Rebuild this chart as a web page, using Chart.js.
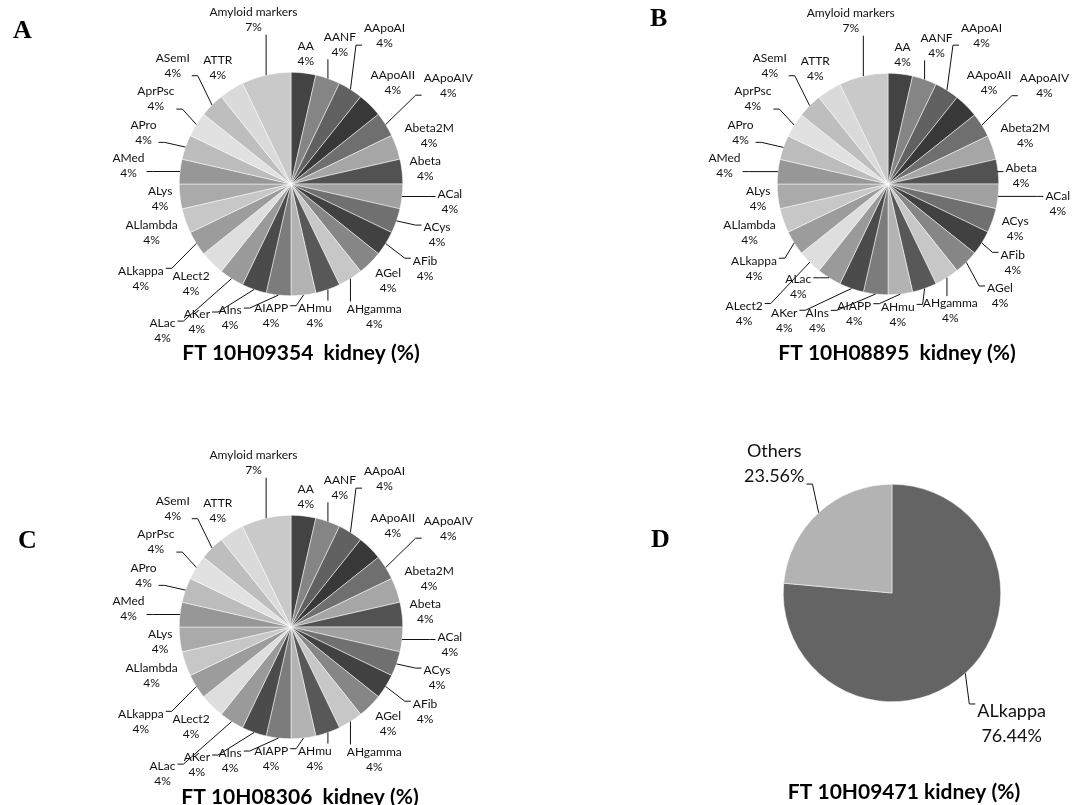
<!DOCTYPE html>
<html>
<head>
<meta charset="utf-8">
<title>Amyloid typing - kidney</title>
<script src="https://cdn.jsdelivr.net/npm/chart.js@4.4.1/dist/chart.umd.min.js"></script>
<style>
  html, body { margin: 0; padding: 0; background: #fff; }
  #page { position: relative; width: 1081px; height: 805px; overflow: hidden; }
  canvas { position: absolute; }
  .tag { position: absolute; font: bold 26px "Liberation Serif", serif; color: #000; line-height: 1; }
</style>
</head>
<body>
<div id="page">
  <canvas id="chartA" width="540" height="402" style="left:0;top:0"></canvas>
  <canvas id="chartB" width="541" height="402" style="left:540px;top:0"></canvas>
  <canvas id="chartC" width="540" height="403" style="left:0;top:402px"></canvas>
  <canvas id="chartD" width="541" height="403" style="left:540px;top:402px"></canvas>
  <div class="tag" style="left:13px;top:17px">A</div>
  <div class="tag" style="left:650px;top:5px">B</div>
  <div class="tag" style="left:18px;top:527px">C</div>
  <div class="tag" style="left:651px;top:526px">D</div>
</div>
<script>
// Amyloid markers found in each sample
const amyloidTypes = ['AA', 'AANF', 'AApoAI', 'AApoAII', 'AApoAIV', 'Abeta2M', 'Abeta', 'ACal', 'ACys',
  'AFib', 'AGel', 'AHgamma', 'AHmu', 'AIAPP', 'AIns', 'AKer', 'ALac', 'ALect2', 'ALkappa', 'ALlambda',
  'ALys', 'AMed', 'APro', 'AprPsc', 'ASemI', 'ATTR', 'Amyloid markers'];
const ft09354 = [1, 1, 1, 1, 1, 1, 1, 1, 1, 1, 1, 1, 1, 1, 1, 1, 1, 1, 1, 1, 1, 1, 1, 1, 1, 1, 2];
const ft08895 = [1, 1, 1, 1, 1, 1, 1, 1, 1, 1, 1, 1, 1, 1, 1, 1, 1, 1, 1, 1, 1, 1, 1, 1, 1, 1, 2];
const ft08306 = [1, 1, 1, 1, 1, 1, 1, 1, 1, 1, 1, 1, 1, 1, 1, 1, 1, 1, 1, 1, 1, 1, 1, 1, 1, 1, 2];

const typesD = ['ALkappa', 'Others'];
const ft09471 = [76.44, 23.56];

const greys = ['#434343', '#858585', '#616161', '#383838', '#6f6f6f', '#a6a6a6', '#525252', '#a1a1a1',
  '#707070', '#414141', '#868686', '#c7c7c7', '#585858', '#b3b3b3', '#7c7c7c', '#4b4b4b', '#9a9a9a',
  '#dedede', '#9c9c9c', '#c7c7c7', '#aaaaaa', '#979797', '#bcbcbc', '#e1e1e1', '#bebebe', '#dadada', '#c9c9c9'];
const greysD = ['#646464', '#b3b3b3'];

// box helpers
const hit = (a, b) => a.x0 < b.x1 && b.x0 < a.x1 && a.y0 < b.y1 && b.y0 < a.y1;
const grow = (b, px, py) => ({ x0: b.x0 - px, x1: b.x1 + px, y0: b.y0 - py, y1: b.y1 + py });
const overlapArea = (a, b) =>
  Math.max(0, Math.min(a.x1, b.x1) - Math.max(a.x0, b.x0)) * Math.max(0, Math.min(a.y1, b.y1) - Math.max(a.y0, b.y0));

// best-fit style outside labels with leader lines
const sliceLabels = {
  id: 'sliceLabels',
  afterDatasetsDraw(chart, args, o) {
    const ctx = chart.ctx;
    const ds = chart.data.datasets[0];
    const total = ds.data.reduce((s, v) => s + v, 0);
    const placed = [];

    // keep labels off the title and inside the canvas
    const t = chart.options.plugins.chartTitle, a = chart.chartArea;
    ctx.save();
    ctx.font = t.font;
    const tw = ctx.measureText(t.text).width;
    const tx = (a.left + a.right) / 2 + t.dx, ty = (a.top + a.bottom) / 2 + t.dy;
    const titleBox = { x0: tx - tw / 2, x1: tx + tw / 2, y0: ty - 11, y1: ty + 11 };
    const inside = b => b.x0 >= 0 && b.y0 >= 0 && b.x1 <= chart.width && b.y1 <= chart.height;

    ctx.font = o.font;
    ctx.textAlign = 'center';
    ctx.textBaseline = 'middle';
    ctx.strokeStyle = o.lineColor;
    ctx.lineWidth = 1;
    ctx.fillStyle = o.color;

    // first the spot right next to the slice, then further out
    const steps = [o.gap];
    for (let d = o.gap + o.pushMin; d <= o.gap + o.maxPush; d++) steps.push(d);
    const shifts = [0];
    for (let s = 3; s <= 21; s += 3) shifts.push(s, -s);

    chart.getDatasetMeta(0).data.forEach((arc, i) => {
      const p = arc.getProps(['x', 'y', 'startAngle', 'endAngle', 'outerRadius'], true);
      const mid = (p.startAngle + p.endAngle) / 2;
      const lines = [chart.data.labels[i], (ds.data[i] / total * 100).toFixed(o.decimals) + '%'];
      const w = Math.max(...lines.map(s => ctx.measureText(s).width)) + 2;
      const h = lines.length * o.lineHeight;

      let best = null, fallback = null;
      search:
      for (const s of shifts) {
        const ang = mid + s * Math.PI / 180;
        const ux = Math.cos(ang), uy = Math.sin(ang);
        const support = Math.abs(ux) * (w / 2 + o.padX) + Math.abs(uy) * (h / 2 + o.padY);
        for (const d of steps) {
          const dist = p.outerRadius + d + support;
          const cx = p.x + ux * dist, cy = p.y + uy * dist;
          const box = { x0: cx - w / 2, x1: cx + w / 2, y0: cy - h / 2, y1: cy + h / 2, cx, cy };
          const big = grow(box, o.padX, o.padY);
          if (!inside(box) || hit(titleBox, big)) continue;
          const ov = placed.reduce((sum, b) => sum + overlapArea(b, big), 0);
          const cand = { box, d, s, ov };
          if (ov === 0) { best = cand; break search; }
          if (!fallback || ov < fallback.ov) fallback = cand;
        }
      }
      const { box, d, s } = best || fallback;
      placed.push(grow(box, o.padX, o.padY));

      if (d - o.gap > o.leaderMin || s !== 0) {
        const ux = Math.cos(mid), uy = Math.sin(mid);
        const sx = p.x + ux * p.outerRadius, sy = p.y + uy * p.outerRadius;
        const side = box.cx - sx;
        ctx.beginPath();
        ctx.moveTo(sx, sy);
        if (Math.abs(side) > w / 2) {
          const ex = side > 0 ? box.x0 - 1 : box.x1 + 1;
          const ey = Math.min(Math.max(sy, box.y0 + 5), box.y1 - 5);
          ctx.lineTo(ex - Math.sign(side) * 6, ey);
          ctx.lineTo(ex, ey);
        } else {
          const ex = Math.min(Math.max(sx, box.x0 + 4), box.x1 - 4);
          ctx.lineTo(ex, uy < 0 ? box.y1 : box.y0);
        }
        ctx.stroke();
      }
      lines.forEach((s, k) => ctx.fillText(s, box.cx, box.y0 + o.lineHeight * (k + 0.5)));
    });
    ctx.restore();
  }
};

const chartTitle = {
  id: 'chartTitle',
  afterDraw(chart, args, o) {
    const a = chart.chartArea, ctx = chart.ctx;
    ctx.save();
    ctx.font = o.font;
    ctx.fillStyle = '#000';
    ctx.textAlign = 'center';
    ctx.textBaseline = 'middle';
    ctx.fillText(o.text, (a.left + a.right) / 2 + o.dx, (a.top + a.bottom) / 2 + o.dy);
    ctx.restore();
  }
};

function pieChart(id, labels, values, colors, geo, labelOpts, titleOpts) {
  const cv = document.getElementById(id);
  return new Chart(cv, {
    type: 'pie',
    data: {
      labels: labels,
      datasets: [{ data: values, backgroundColor: colors, borderColor: '#ffffff', borderWidth: 0.5 }]
    },
    options: {
      responsive: false,
      animation: false,
      devicePixelRatio: 1,
      events: [],
      layout: {
        padding: {
          left: geo.cx - geo.r, top: geo.cy - geo.r,
          right: cv.width - geo.cx - geo.r, bottom: cv.height - geo.cy - geo.r
        }
      },
      plugins: {
        legend: { display: false },
        tooltip: { enabled: false },
        sliceLabels: labelOpts,
        chartTitle: titleOpts
      }
    },
    plugins: [sliceLabels, chartTitle]
  });
}

const smallLabels = {
  font: '12px Lato', lineHeight: 15, color: '#111', lineColor: '#111', decimals: 0,
  gap: 2, pushMin: 12, maxPush: 60, padX: 3, padY: 1.5, leaderMin: 6
};
const titleFont = 'bold 21px Lato';

pieChart('chartA', amyloidTypes, ft09354, greys, { cx: 291, cy: 184, r: 112 }, smallLabels,
  { text: 'FT 10H09354  kidney (%)', font: titleFont, dx: 10, dy: 169 });
pieChart('chartB', amyloidTypes, ft08895, greys, { cx: 348, cy: 184, r: 111 }, smallLabels,
  { text: 'FT 10H08895  kidney (%)', font: titleFont, dx: 9, dy: 169 });
pieChart('chartC', amyloidTypes, ft08306, greys, { cx: 291, cy: 225, r: 112 }, smallLabels,
  { text: 'FT 10H08306  kidney (%)', font: titleFont, dx: 9, dy: 170 });
pieChart('chartD', typesD, ft09471, greysD, { cx: 352, cy: 191, r: 109 },
  { font: '18px Lato', lineHeight: 25, color: '#111', lineColor: '#111', decimals: 2,
    gap: 25, pushMin: 1, maxPush: 45, padX: 2, padY: 0, leaderMin: -1 },
  { text: 'FT 10H09471 kidney (%)', font: titleFont, dx: 12, dy: 199 });
</script>
</body>
</html>
